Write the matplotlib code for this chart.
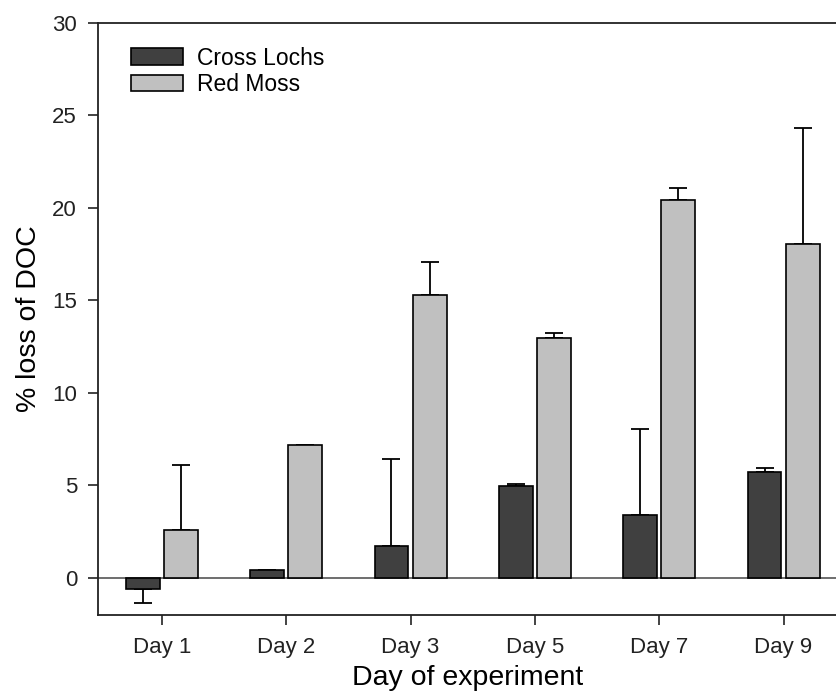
import numpy as np
import matplotlib
matplotlib.use('Agg')
import matplotlib.pyplot as plt

plt.rcParams['font.family'] = ['Liberation Sans', 'DejaVu Sans']

days = ['Day 1', 'Day 2', 'Day 3', 'Day 5', 'Day 7', 'Day 9']
cross_lochs = [-0.6, 0.42, 1.75, 4.98, 3.43, 5.74]
cross_lochs_err = [0.74, np.nan, 4.7, 0.08, 4.65, 0.2]
red_moss = [2.6, 7.2, 15.3, 12.98, 20.45, 18.05]
red_moss_err = [3.52, np.nan, 1.8, 0.27, 0.65, 6.25]

fig = plt.figure(figsize=(8.37, 6.96), dpi=100)
ax = fig.add_axes([0.117, 0.1164, 0.883, 0.8506])

x = np.arange(len(days))
w = 0.273
off = 0.153

ax.axhline(0, color='#555555', lw=1.2, zorder=1)

# one-sided error bars: down for negative bars, up for positive
cl = np.array(cross_lochs)
cl_err = np.array(cross_lochs_err)
cl_yerr = [np.where(cl < 0, cl_err, 0), np.where(cl < 0, 0, cl_err)]
rm = np.array(red_moss)
rm_err = np.array(red_moss_err)
rm_yerr = [np.zeros_like(rm_err), rm_err]

ekw = dict(elinewidth=1.3, capthick=1.3, capsize=6.5, ecolor='black')
ax.bar(x - off, cl, w, color='#404040', edgecolor='black', lw=1.2,
       label='Cross Lochs', zorder=3)
ax.bar(x + off, rm, w, color='#c0c0c0', edgecolor='black', lw=1.2,
       label='Red Moss', zorder=3)
ax.errorbar(x - off, cl, yerr=cl_yerr, fmt='none', zorder=2, **ekw)
ax.errorbar(x + off, rm, yerr=rm_yerr, fmt='none', zorder=2, **ekw)

ax.set_xlim(-0.514, 5.43)
ax.set_ylim(-2, 30)
ax.set_yticks(np.arange(0, 31, 5))
ax.set_xticks(x)
ax.set_xticklabels(days)
ax.tick_params(axis='both', direction='out', labelsize=16, length=7,
               width=1.2, colors='#222222')
ax.tick_params(axis='x', pad=9)
ax.tick_params(axis='y', pad=8)
ax.spines['right'].set_visible(False)
for s in ['left', 'top', 'bottom']:
    ax.spines[s].set_linewidth(1.3)
    ax.spines[s].set_color('#222222')

ax.set_xlabel('Day of experiment', fontsize=20.5, labelpad=5)
ax.set_ylabel('% loss of DOC', fontsize=20.5, labelpad=7)

ax.legend(loc='upper left', frameon=False, fontsize=16.5,
          handlelength=2.3, handleheight=0.75, handletextpad=0.6,
          labelspacing=0.15, bbox_to_anchor=(0.0165, 0.995))

fig.savefig('out.png', dpi=100)
